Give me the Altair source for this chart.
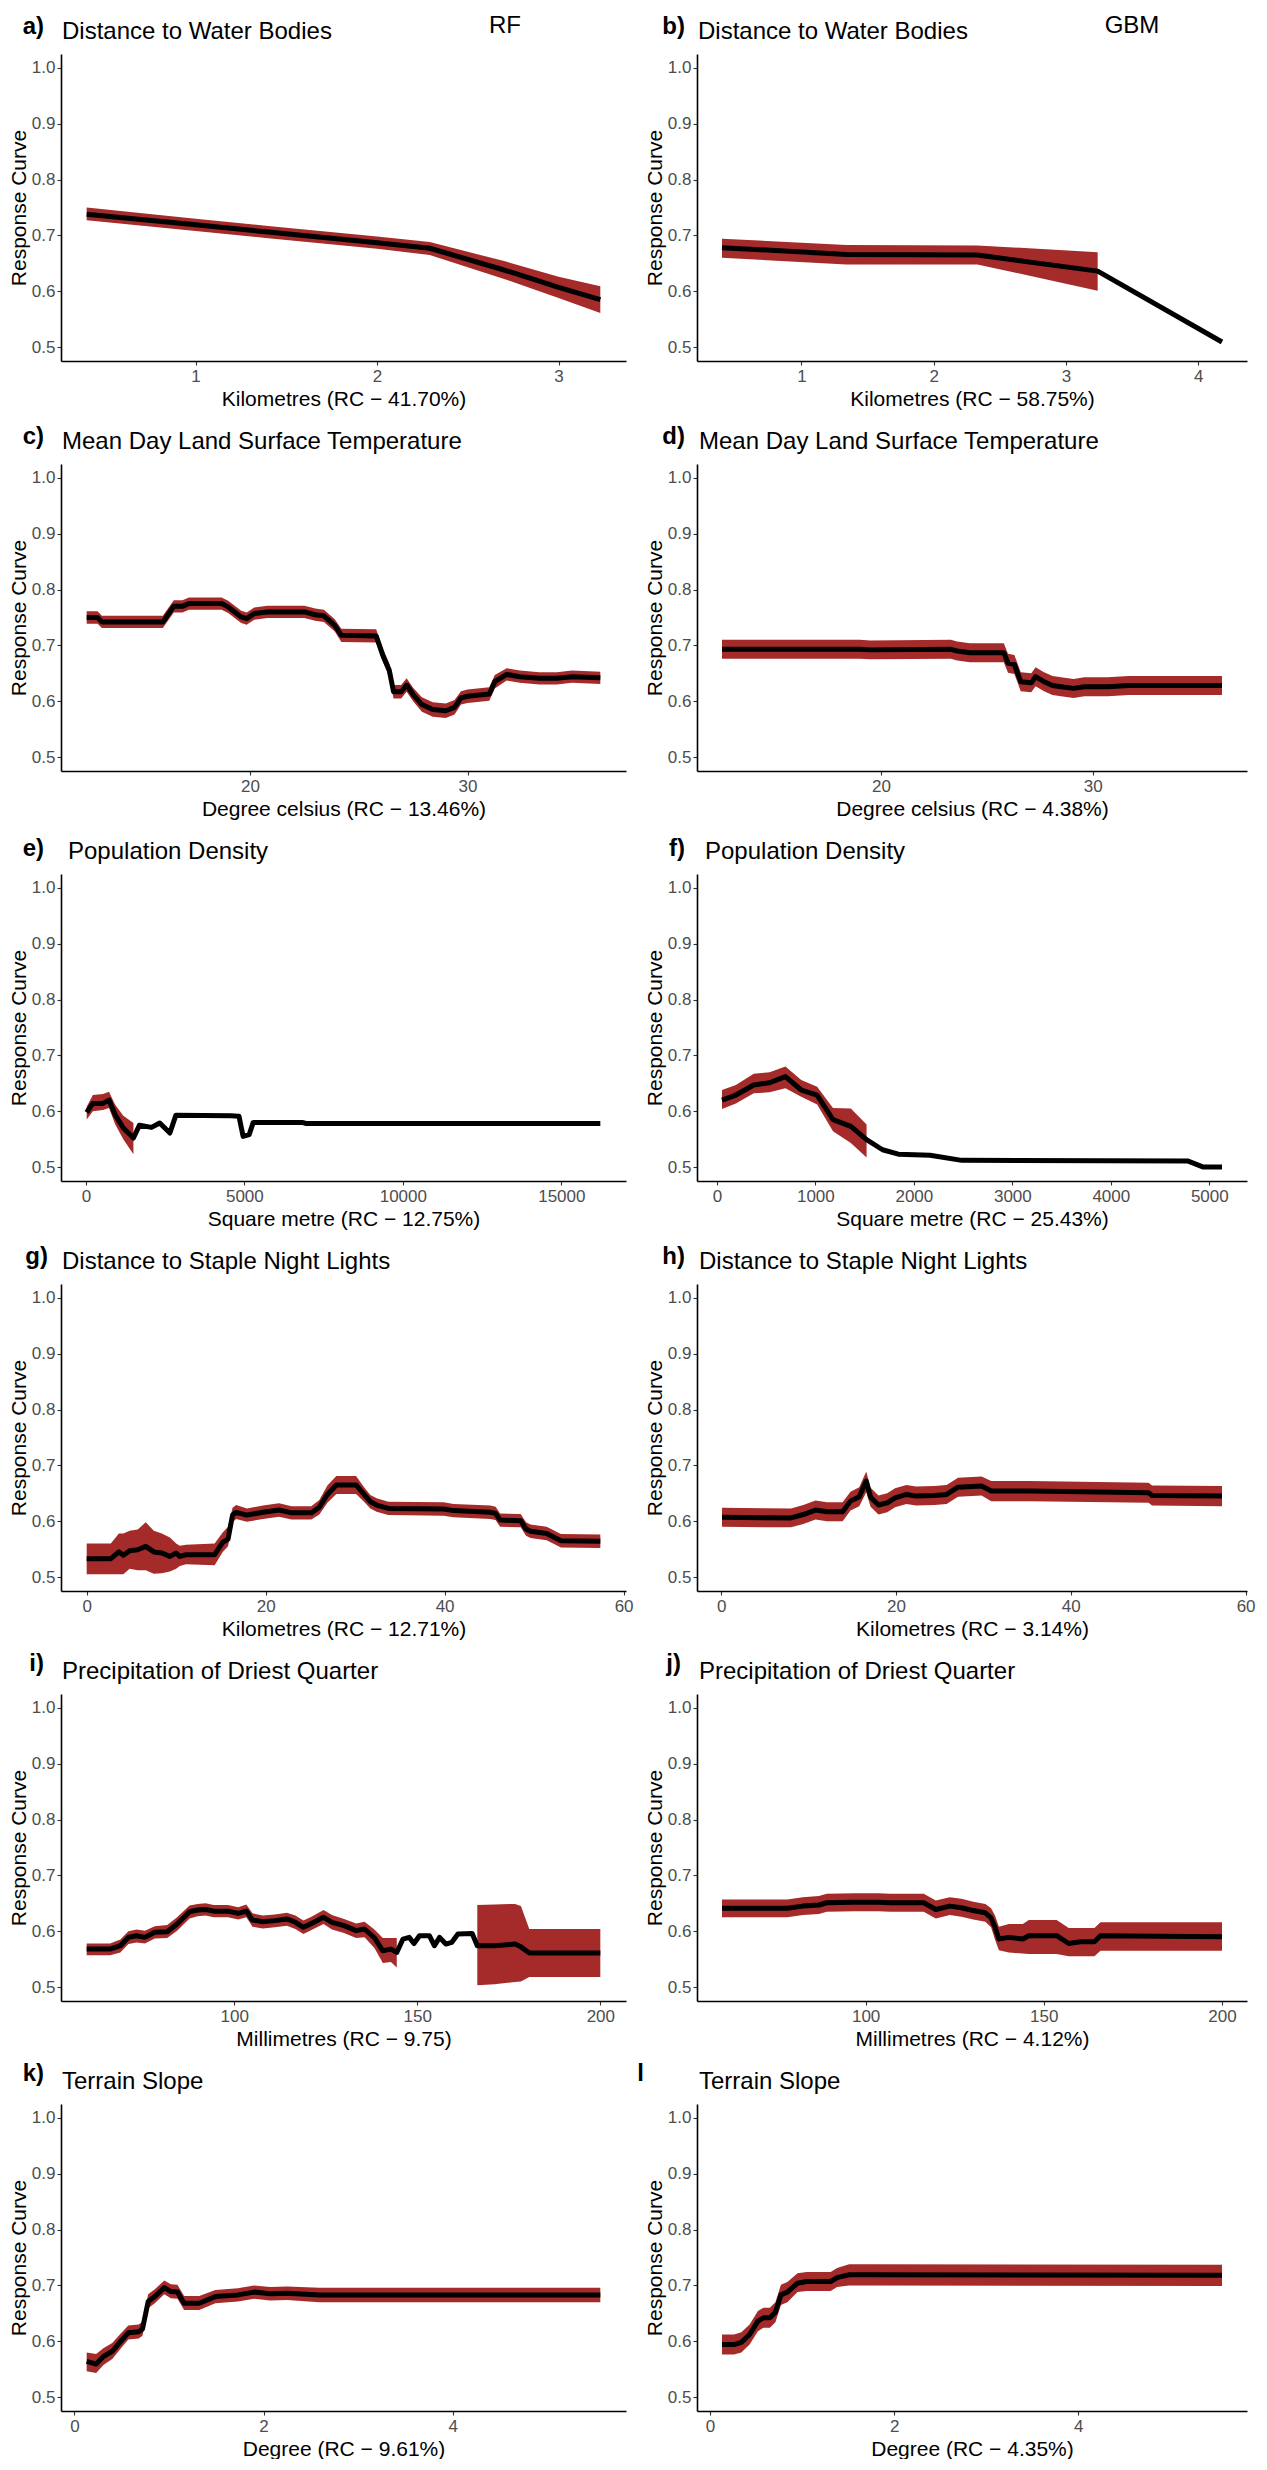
import altair as alt
import pandas as pd

# ---------------- data ----------------
# a) RF - Distance to Water Bodies
a_x = [0.40, 1.00, 1.40, 2.00, 2.29, 2.70, 3.00, 3.23]
a_y = [0.738, 0.719, 0.706, 0.687, 0.677, 0.638, 0.607, 0.585]
a_lo = [0.727, 0.708, 0.695, 0.676, 0.665, 0.622, 0.588, 0.561]
a_hi = [0.750, 0.730, 0.717, 0.698, 0.688, 0.654, 0.626, 0.609]

# b) GBM - Distance to Water Bodies
b_x = [0.40, 1.34, 2.33, 3.24, 4.18]
b_y = [0.678, 0.666, 0.665, 0.636, 0.509]
b_lo = [0.660, 0.648, 0.648, 0.601, None]
b_hi = [0.694, 0.683, 0.682, 0.670, None]

# c) RF - Mean Day Land Surface Temperature
c_x = [12.5, 13.0, 13.2, 16.0, 16.5, 16.9, 17.2, 18.7, 19.0, 19.6,
       19.85, 20.2, 20.8, 22.5, 23.0, 23.4, 23.9, 24.2, 25.8, 26.1,
       26.4, 26.6, 26.95, 27.2, 27.5, 27.9, 28.4, 29.0, 29.4, 29.7,
       30.0, 31.0, 31.25, 31.8, 32.4, 33.3, 34.1, 34.8, 36.1]
c_y = [0.750, 0.750, 0.742, 0.742, 0.770, 0.770, 0.775, 0.775, 0.769, 0.751,
       0.748, 0.757, 0.760, 0.760, 0.755, 0.753, 0.736, 0.718, 0.717, 0.683,
       0.656, 0.617, 0.617, 0.629, 0.612, 0.594, 0.585, 0.583, 0.589, 0.606,
       0.609, 0.613, 0.635, 0.648, 0.644, 0.641, 0.641, 0.644, 0.642]
c_lo = [0.739, 0.739, 0.731, 0.731, 0.759, 0.759, 0.764, 0.764, 0.758, 0.740,
        0.737, 0.746, 0.749, 0.749, 0.744, 0.742, 0.725, 0.706, 0.705, 0.671,
        0.644, 0.605, 0.605, 0.617, 0.600, 0.581, 0.572, 0.570, 0.576, 0.594,
        0.597, 0.601, 0.623, 0.637, 0.633, 0.630, 0.630, 0.633, 0.631]
c_hi = [0.761, 0.761, 0.753, 0.753, 0.781, 0.781, 0.786, 0.786, 0.780, 0.762,
        0.759, 0.768, 0.771, 0.771, 0.766, 0.764, 0.747, 0.730, 0.729, 0.695,
        0.668, 0.629, 0.629, 0.641, 0.624, 0.607, 0.598, 0.596, 0.602, 0.618,
        0.621, 0.625, 0.647, 0.659, 0.655, 0.652, 0.652, 0.655, 0.653]

# d) GBM - Mean Day Land Surface Temperature
d_x = [12.5, 19.0, 19.5, 23.3, 23.6, 24.2, 25.8, 26.0, 26.3, 26.6,
       27.1, 27.3, 27.7, 28.1, 28.5, 29.1, 29.6, 30.7, 31.7, 36.1]
d_y = [0.693, 0.693, 0.692, 0.693, 0.690, 0.687, 0.687, 0.668, 0.666, 0.635,
       0.633, 0.644, 0.635, 0.628, 0.626, 0.623, 0.626, 0.626, 0.628, 0.628]
d_lo = [0.676, 0.676, 0.675, 0.676, 0.673, 0.670, 0.670, 0.651, 0.649, 0.618,
        0.616, 0.627, 0.618, 0.611, 0.609, 0.606, 0.609, 0.609, 0.611, 0.611]
d_hi = [0.710, 0.710, 0.709, 0.710, 0.707, 0.704, 0.704, 0.685, 0.683, 0.652,
        0.650, 0.661, 0.652, 0.645, 0.643, 0.640, 0.643, 0.643, 0.645, 0.645]

# e) RF - Population Density
e_x = [25, 220, 540, 730, 920, 1180, 1500, 1690, 2070, 2330,
       2650, 2840, 4570, 4830, 4960, 5150, 5280, 6820, 6950, 16230]
e_y = [0.598, 0.614, 0.614, 0.620, 0.594, 0.570, 0.552, 0.575, 0.571, 0.579,
       0.561, 0.593, 0.592, 0.591, 0.555, 0.558, 0.580, 0.580, 0.578, 0.578]
e_lo = [0.585, 0.600, 0.602, 0.606, 0.577, 0.550, 0.523, None, None, None,
        None, None, None, None, None, None, None, None, None, None]
e_hi = [0.608, 0.629, 0.631, 0.635, 0.612, 0.592, 0.579, None, None, None,
        None, None, None, None, None, None, None, None, None, None]

# f) GBM - Population Density
f_x = [52, 193, 374, 535, 696, 857, 1018, 1179, 1360, 1520,
       1682, 1843, 2165, 2486, 4779, 4940, 5129]
f_y = [0.620, 0.629, 0.647, 0.651, 0.662, 0.638, 0.629, 0.585, 0.573, 0.549,
       0.531, 0.523, 0.521, 0.512, 0.511, 0.500, 0.500]
f_lo = [0.604, 0.614, 0.632, 0.634, 0.641, 0.626, 0.612, 0.564, 0.543, 0.517,
        None, None, None, None, None, None, None]
f_hi = [0.638, 0.647, 0.667, 0.670, 0.680, 0.656, 0.644, 0.606, 0.605, 0.576,
        None, None, None, None, None, None, None]

# g) RF - Distance to Staple Night Lights
g_x = [0, 2.7, 3.6, 4.1, 4.8, 5.7, 6.6, 7.5, 8.4, 9.3,
       10.0, 10.4, 11.1, 14.3, 15.2, 15.8, 16.3, 16.7, 17.9, 19.7,
       21.5, 22.9, 25.1, 26.0, 26.9, 27.9, 30.1, 31.0, 31.7, 32.4,
       33.7, 39.9, 41.0, 45.1, 45.7, 46.2, 48.5, 49.1, 49.6, 51.4,
       53.0, 57.4]
g_y = [0.533, 0.533, 0.545, 0.539, 0.547, 0.549, 0.555, 0.545, 0.543, 0.537,
       0.543, 0.537, 0.540, 0.540, 0.562, 0.568, 0.611, 0.616, 0.611, 0.616,
       0.620, 0.615, 0.615, 0.625, 0.648, 0.665, 0.665, 0.648, 0.635, 0.629,
       0.623, 0.622, 0.619, 0.616, 0.614, 0.602, 0.601, 0.586, 0.582, 0.578,
       0.565, 0.564]
g_lo = [0.505, 0.505, 0.505, 0.505, 0.515, 0.512, 0.512, 0.506, 0.507, 0.510,
        0.515, 0.520, 0.523, 0.521, 0.545, 0.555, 0.598, 0.604, 0.599, 0.604,
        0.608, 0.603, 0.603, 0.612, 0.633, 0.649, 0.649, 0.635, 0.623, 0.617,
        0.611, 0.610, 0.607, 0.604, 0.602, 0.590, 0.589, 0.574, 0.570, 0.566,
        0.553, 0.552]
g_hi = [0.560, 0.560, 0.578, 0.578, 0.583, 0.585, 0.598, 0.583, 0.578, 0.571,
        0.560, 0.556, 0.558, 0.560, 0.580, 0.590, 0.624, 0.629, 0.623, 0.628,
        0.632, 0.627, 0.627, 0.638, 0.664, 0.681, 0.681, 0.661, 0.647, 0.641,
        0.635, 0.634, 0.631, 0.628, 0.626, 0.614, 0.613, 0.598, 0.594, 0.590,
        0.577, 0.576]

# h) GBM - Distance to Staple Night Lights
h_x = [0.1, 8.0, 9.4, 10.8, 12.1, 13.9, 14.8, 15.8, 16.6, 17.1,
       18.0, 19.0, 19.9, 21.2, 22.3, 24.4, 25.8, 27.1, 29.8, 30.9,
       35.3, 48.9, 49.3, 57.3]
h_y = [0.607, 0.606, 0.612, 0.620, 0.617, 0.617, 0.636, 0.644, 0.672, 0.643,
       0.629, 0.633, 0.642, 0.648, 0.645, 0.646, 0.648, 0.661, 0.663, 0.654,
       0.654, 0.651, 0.646, 0.645]
h_lo = [0.590, 0.589, 0.595, 0.603, 0.600, 0.600, 0.619, 0.627, 0.652, 0.626,
        0.612, 0.616, 0.625, 0.631, 0.628, 0.629, 0.631, 0.644, 0.646, 0.636,
        0.636, 0.633, 0.628, 0.627]
h_hi = [0.624, 0.623, 0.629, 0.637, 0.634, 0.634, 0.653, 0.661, 0.689, 0.660,
        0.646, 0.650, 0.659, 0.665, 0.662, 0.663, 0.665, 0.678, 0.680, 0.672,
        0.672, 0.669, 0.664, 0.663]

# i) RF - Precipitation of Driest Quarter
i_x = [59.7, 66.1, 68.9, 71.1, 73.3, 75.6, 78.3, 81.7, 84.4, 87.8,
       90.0, 92.2, 94.4, 98.3, 101.1, 103.3, 105.0, 107.8, 111.1, 114.4,
       116.7, 118.9, 121.1, 124.4, 126.7, 130.0, 133.3, 135.6, 138.3, 140.6,
       142.8, 144.4, 146.1, 147.8, 149.1, 150.6, 153.3, 154.7, 156.1, 157.8,
       159.4, 161.1, 165.0, 166.4, 171.1, 176.7, 178.3, 180.6, 200.0]
i_y = [0.568, 0.568, 0.574, 0.589, 0.592, 0.589, 0.598, 0.599, 0.613, 0.635,
       0.638, 0.639, 0.636, 0.636, 0.632, 0.636, 0.620, 0.617, 0.619, 0.622,
       0.616, 0.607, 0.614, 0.625, 0.616, 0.610, 0.601, 0.604, 0.588, 0.565,
       0.568, 0.562, 0.586, 0.589, 0.578, 0.592, 0.592, 0.574, 0.589, 0.577,
       0.580, 0.595, 0.596, 0.574, 0.574, 0.577, 0.572, 0.561, 0.561]
i_lo = [0.557, 0.557, 0.562, 0.577, 0.580, 0.578, 0.587, 0.588, 0.601, 0.623,
        0.627, 0.628, 0.625, 0.625, 0.621, 0.625, 0.608, 0.605, 0.607, 0.610,
        0.604, 0.595, 0.602, 0.613, 0.603, 0.597, 0.588, 0.589, 0.570, 0.543,
        0.545, 0.535, None, None, None, None, None, None, None, None,
        None, None, None, 0.503, 0.505, 0.509, 0.510, 0.518, 0.518]
i_hi = [0.578, 0.578, 0.585, 0.600, 0.603, 0.601, 0.609, 0.611, 0.625, 0.646,
        0.649, 0.650, 0.647, 0.647, 0.643, 0.648, 0.632, 0.628, 0.630, 0.633,
        0.628, 0.619, 0.626, 0.638, 0.629, 0.622, 0.614, 0.617, 0.603, 0.588,
        0.588, 0.588, None, None, None, None, None, None, None, None,
        None, None, None, 0.647, 0.648, 0.649, 0.645, 0.604, 0.604]

# j) GBM - Precipitation of Driest Quarter
j_x = [59.7, 78.0, 82.4, 86.9, 89.1, 96.9, 103.6, 106.9, 116.3, 119.7,
       123.6, 126.9, 130.2, 133.6, 135.2, 136.3, 137.4, 140.2, 144.1, 145.8,
       153.6, 157.0, 160.3, 164.2, 165.9, 200.0]
j_y = [0.641, 0.641, 0.645, 0.647, 0.651, 0.652, 0.652, 0.651, 0.651, 0.639,
       0.645, 0.642, 0.637, 0.633, 0.624, 0.607, 0.586, 0.589, 0.586, 0.592,
       0.592, 0.578, 0.581, 0.581, 0.592, 0.590]
j_lo = [0.625, 0.625, 0.629, 0.631, 0.635, 0.636, 0.636, 0.635, 0.635, 0.623,
        0.629, 0.626, 0.621, 0.617, 0.607, 0.585, 0.566, 0.562, 0.560, 0.559,
        0.559, 0.555, 0.555, 0.555, 0.565, 0.565]
j_hi = [0.657, 0.657, 0.661, 0.663, 0.667, 0.668, 0.668, 0.667, 0.667, 0.655,
        0.661, 0.658, 0.653, 0.649, 0.641, 0.628, 0.608, 0.613, 0.613, 0.620,
        0.620, 0.606, 0.606, 0.606, 0.616, 0.616]

# k) RF - Terrain Slope
k_x = [0.13, 0.23, 0.31, 0.40, 0.49, 0.57, 0.68, 0.72, 0.78, 0.85,
       0.95, 1.02, 1.09, 1.16, 1.32, 1.49, 1.73, 1.90, 2.07, 2.25,
       2.59, 5.56]
k_y = [0.564, 0.559, 0.573, 0.582, 0.600, 0.615, 0.617, 0.622, 0.671, 0.680,
       0.696, 0.689, 0.688, 0.668, 0.668, 0.680, 0.683, 0.688, 0.685, 0.686,
       0.683, 0.683]
k_lo = [0.546, 0.543, 0.558, 0.568, 0.587, 0.603, 0.605, 0.610, 0.659, 0.668,
        0.684, 0.677, 0.676, 0.656, 0.656, 0.668, 0.671, 0.676, 0.673, 0.674,
        0.670, 0.670]
k_hi = [0.580, 0.577, 0.588, 0.597, 0.614, 0.628, 0.630, 0.635, 0.684, 0.693,
        0.709, 0.702, 0.701, 0.681, 0.681, 0.692, 0.695, 0.700, 0.697, 0.698,
        0.696, 0.696]

# l) GBM - Terrain Slope
l_x = [0.13, 0.26, 0.34, 0.43, 0.52, 0.58, 0.65, 0.71, 0.77, 0.84,
       0.95, 1.05, 1.31, 1.38, 1.51, 1.74, 5.56]
l_y = [0.594, 0.594, 0.598, 0.612, 0.636, 0.642, 0.642, 0.652, 0.683, 0.688,
       0.704, 0.707, 0.707, 0.714, 0.719, 0.719, 0.718]
l_lo = [0.576, 0.576, 0.580, 0.594, 0.618, 0.624, 0.624, 0.634, 0.665, 0.670,
        0.688, 0.690, 0.690, 0.697, 0.700, 0.700, 0.699]
l_hi = [0.612, 0.612, 0.616, 0.630, 0.654, 0.660, 0.660, 0.670, 0.701, 0.706,
        0.722, 0.724, 0.724, 0.731, 0.738, 0.738, 0.737]

LABELS = ["a)", "b)", "c)", "d)", "e)", "f)", "g)", "h)", "i)", "j)", "k)", "l"]
TITLES = ["Distance to Water Bodies", "Distance to Water Bodies",
          "Mean Day Land Surface Temperature", "Mean Day Land Surface Temperature",
          "Population Density", "Population Density",
          "Distance to Staple Night Lights", "Distance to Staple Night Lights",
          "Precipitation of Driest Quarter", "Precipitation of Driest Quarter",
          "Terrain Slope", "Terrain Slope"]
XTITLES = ["Kilometres (RC − 41.70%)", "Kilometres (RC − 58.75%)",
           "Degree celsius (RC − 13.46%)", "Degree celsius (RC − 4.38%)",
           "Square metre (RC − 12.75%)", "Square metre (RC − 25.43%)",
           "Kilometres (RC − 12.71%)", "Kilometres (RC − 3.14%)",
           "Millimetres (RC − 9.75)", "Millimetres (RC − 4.12%)",
           "Degree (RC − 9.61%)", "Degree (RC − 4.35%)"]
XTICKS = [[1, 2, 3], [1, 2, 3, 4], [20, 30], [20, 30],
          [0, 5000, 10000, 15000], [0, 1000, 2000, 3000, 4000, 5000],
          [0, 20, 40, 60], [0, 20, 40, 60], [100, 150, 200], [100, 150, 200],
          [0, 2, 4], [0, 2, 4]]
HEADERS = ["RF", "GBM"]
Y_TICKS = [0.5, 0.6, 0.7, 0.8, 0.9, 1.0]

SERIES = [(a_x, a_y, a_lo, a_hi), (b_x, b_y, b_lo, b_hi),
          (c_x, c_y, c_lo, c_hi), (d_x, d_y, d_lo, d_hi),
          (e_x, e_y, e_lo, e_hi), (f_x, f_y, f_lo, f_hi),
          (g_x, g_y, g_lo, g_hi), (h_x, h_y, h_lo, h_hi),
          (i_x, i_y, i_lo, i_hi), (j_x, j_y, j_lo, j_hi),
          (k_x, k_y, k_lo, k_hi), (l_x, l_y, l_lo, l_hi)]

# ---------------- styling / layout ----------------
FONT = "Liberation Sans"
RIBBON = "#A52A2A"
W_LEFT, W_RIGHT, H = 565, 550, 307
ROW_GAP, COL_GAP = 103, 71
TITLE_DX = [1, 1, 1, 2, 7, 8, 1, 2, 1, 2, 1, 2]
LABEL_X = [-17, -12, -17, -12, -17, -12, -13, -12, -17, -16, -17, -53]
LABEL_Y = [-27, -27, -27, -27, -25, -25, -27, -27, -30, -30, -30, -30]
TITLE_Y = -22
HEADER_X = [444, 435]
HEADER_Y = -28


def build(idx):
    xs, ys, los, his = SERIES[idx]
    assert len(xs) == len(ys) == len(los) == len(his), idx
    rows = []
    seg, prev = 0, False
    for xv, yv, lv, hv in zip(xs, ys, los, his):
        ok = lv is not None
        if ok and not prev:
            seg += 1
        rows.append({"x": xv, "y": yv, "lo": lv, "hi": hv, "seg": seg if ok else 0})
        prev = ok
    df = pd.DataFrame(rows)
    rib = df[df["lo"].notna()]

    xmin, xmax = min(xs), max(xs)
    pad = (xmax - xmin) * 0.05
    xscale = alt.Scale(domain=[xmin - pad, xmax + pad], nice=False, zero=False)
    yscale = alt.Scale(domain=[0.475, 1.025], nice=False, zero=False)
    xaxis = alt.Axis(values=XTICKS[idx], format="d", title=XTITLES[idx])
    yaxis = alt.Axis(values=Y_TICKS, format=".1f", title="Response Curve")

    area = alt.Chart(rib).mark_area(color=RIBBON, opacity=1).encode(
        x=alt.X("x:Q", scale=xscale, axis=xaxis),
        y=alt.Y("lo:Q", scale=yscale, axis=yaxis),
        y2="hi:Q",
        detail="seg:N",
    )
    line = alt.Chart(df).mark_line(color="black", strokeWidth=5, strokeJoin="round").encode(
        x=alt.X("x:Q", scale=xscale, axis=xaxis),
        y=alt.Y("y:Q", scale=yscale, axis=yaxis),
    )
    lab = alt.Chart(pd.DataFrame({"t": [LABELS[idx]]})).mark_text(
        align="right", baseline="middle", font=FONT, fontSize=24, fontWeight="bold", color="black"
    ).encode(text="t:N", x=alt.value(LABEL_X[idx]), y=alt.value(LABEL_Y[idx]))
    ttl = alt.Chart(pd.DataFrame({"t": [TITLES[idx]]})).mark_text(
        align="left", baseline="middle", font=FONT, fontSize=24, color="black"
    ).encode(text="t:N", x=alt.value(TITLE_DX[idx]), y=alt.value(TITLE_Y))
    layers = [area, line, lab, ttl]
    if idx < 2:
        hdr = alt.Chart(pd.DataFrame({"t": [HEADERS[idx]]})).mark_text(
            align="center", baseline="middle", font=FONT, fontSize=24, color="black"
        ).encode(text="t:N", x=alt.value(HEADER_X[idx]), y=alt.value(HEADER_Y))
        layers.append(hdr)
    return alt.layer(*layers).properties(width=W_LEFT if idx % 2 == 0 else W_RIGHT, height=H)


cells = [build(i) for i in range(12)]

chart = alt.concat(
    *cells, columns=2, spacing={"row": ROW_GAP, "column": COL_GAP}, bounds="flush",
    padding={"top": 6, "left": 0, "right": 0, "bottom": 0},
).configure_view(
    stroke=None
).configure_axis(
    domainColor="black", domainWidth=1.6, tickColor="#333333", tickWidth=1.1, tickSize=4,
    labelColor="#4D4D4D", labelFontSize=17, labelFont=FONT, labelPadding=3, labelFlush=False,
    titleFont=FONT, titleFontSize=21, titleFontWeight="normal", titleColor="black", titlePadding=4,
    grid=False,
).configure_axisY(titlePadding=2, labelPadding=2)

chart.save("out.html", embed_options={"renderer": "svg", "actions": False})
